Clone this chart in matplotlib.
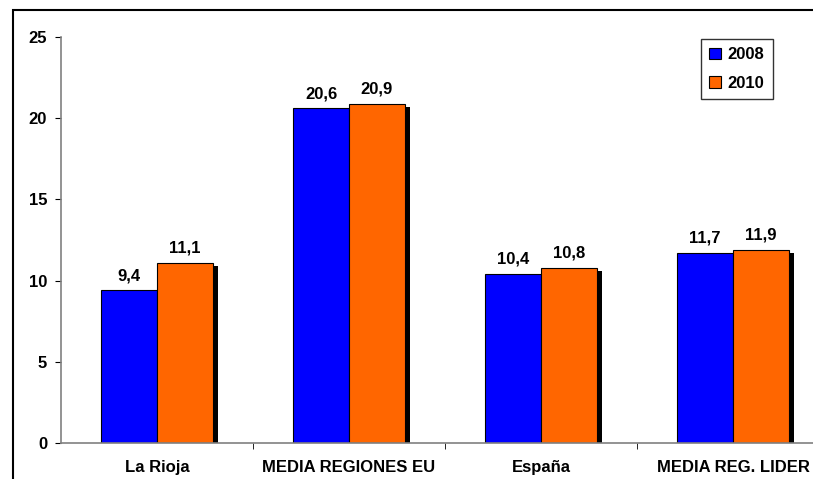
import numpy as np
import matplotlib
matplotlib.use('Agg')
import matplotlib.pyplot as plt
import matplotlib.patheffects as pe
from matplotlib.patches import Rectangle

categories = ['La Rioja', 'MEDIA REGIONES EU', 'España', 'MEDIA REG. LIDER']
years = ['2008', '2010']
vals_2008 = [9.4, 20.6, 10.4, 11.7]
vals_2010 = [11.1, 20.9, 10.8, 11.9]
colors = ['#0000FF', '#FF6600']

plt.rcParams['font.family'] = ['Liberation Sans', 'DejaVu Sans']
plt.rcParams['font.weight'] = 'bold'
plt.rcParams['font.size'] = 12

fig = plt.figure(figsize=(8.13, 4.79), dpi=100)
# outer frame (runs off the right/bottom edges like the original)
fig.patches.append(Rectangle((13 / 813, -0.1), 1.2, 1 - 9.5 / 479 + 0.1, fill=False,
                             lw=1.5, ec='black', transform=fig.transFigure, figure=fig))

ax = fig.add_axes([61 / 813, 1 - 443 / 479, 768 / 813, (443 - 37) / 479])

x = np.arange(len(categories))
w = 0.29
shadow = [pe.SimplePatchShadow(offset=(3.6, -2.2), shadow_rgbFace='black', alpha=1), pe.Normal()]
for i, (vals, yr) in enumerate([(vals_2008, years[0]), (vals_2010, years[1])]):
    pos = x + (i - 0.5) * w
    bars = ax.bar(pos, vals, w, color=colors[i], edgecolor='black', lw=0.8, label=yr, zorder=2)
    for b in bars:
        b.set_path_effects(shadow)
    for p, v in zip(pos, vals):
        ax.text(p, v + 0.45, f'{v:.1f}'.replace('.', ','), ha='center', va='bottom',
                fontweight='bold', fontsize=12)

ax.set_xlim(-0.5, 3.5)
ax.set_ylim(0, 25)
ax.set_yticks([0, 5, 10, 15, 20, 25])
ax.set_xticks(x)
ax.set_xticklabels(categories)
ax.set_xticks(x[:-1] + 0.5, minor=True)
ax.tick_params(axis='x', which='major', length=0, pad=12)
ax.tick_params(axis='x', which='minor', length=4, direction='out', color='black')
ax.tick_params(axis='y', length=4, direction='out', pad=6, color='black')

for s in ['top', 'right']:
    ax.spines[s].set_visible(False)
for s in ['left', 'bottom']:
    ax.spines[s].set_color('#808080')
    ax.spines[s].set_linewidth(1.2)

leg = ax.legend(loc='upper left', bbox_to_anchor=(701 / 813, 1 - 39 / 479),
                bbox_transform=fig.transFigure, borderaxespad=0, fancybox=False,
                edgecolor='black', handlelength=0.7, handleheight=0.7,
                handletextpad=0.4, labelspacing=0.8, borderpad=0.5,
                prop={'weight': 'bold', 'size': 12})
leg.get_frame().set_linewidth(1.0)
for h in leg.legend_handles:
    h.set_path_effects([])

fig.savefig('out.png', dpi=100)
